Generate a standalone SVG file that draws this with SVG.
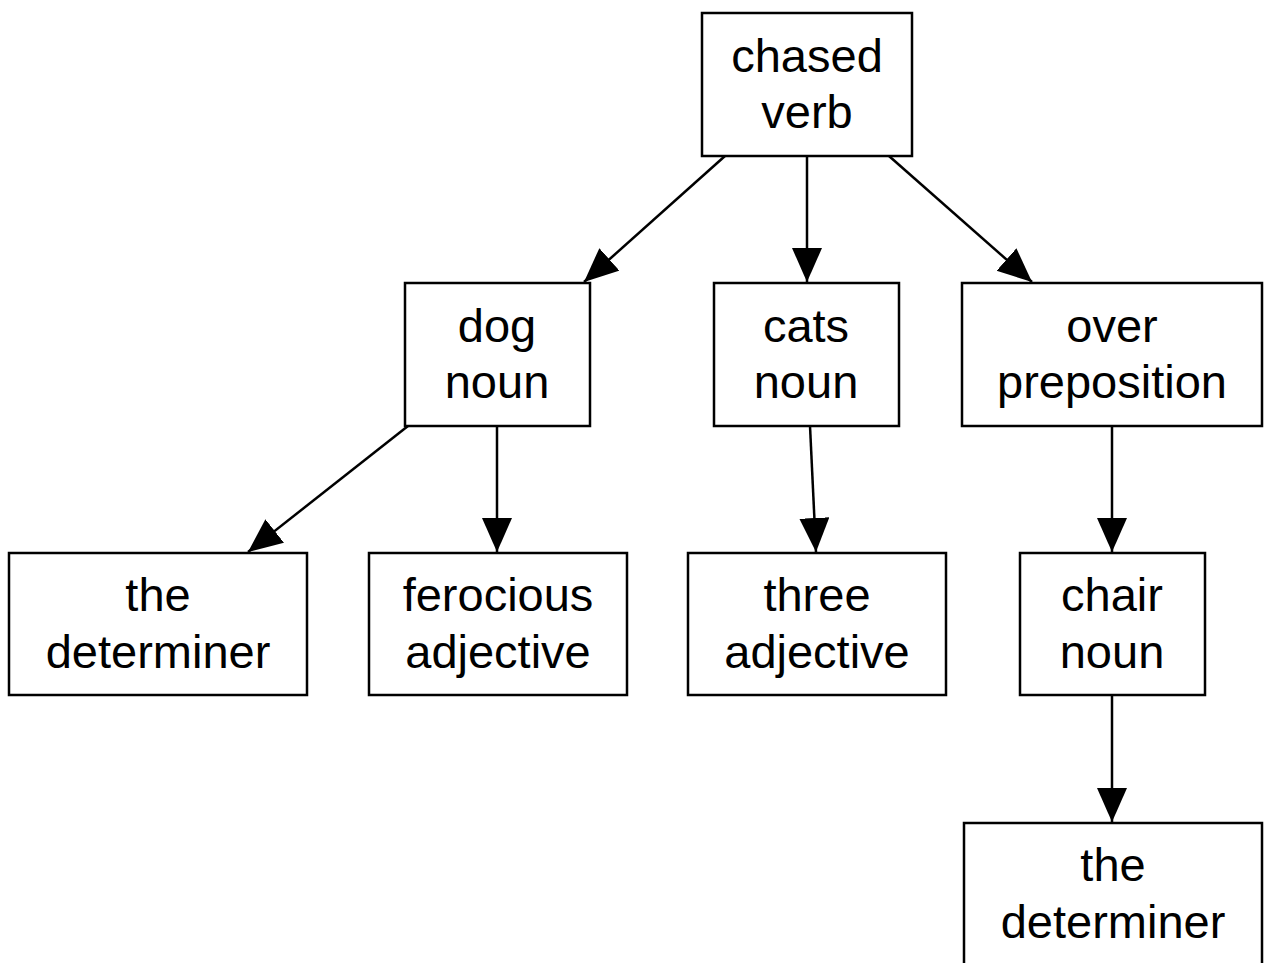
<svg xmlns="http://www.w3.org/2000/svg" width="1264" height="963" viewBox="0 0 1264 963">
<style>
rect.n{fill:#fff;stroke:#000;stroke-width:2.5}
text{font-family:"Liberation Sans",Arial,sans-serif;font-size:47px;fill:#000;text-anchor:middle}
.e line{stroke:#000;stroke-width:2.5}
</style>
<defs>
<marker id="ah" markerUnits="userSpaceOnUse" markerWidth="36" markerHeight="32" refX="34" refY="15" orient="auto">
<path d="M0,0 L34,15 L0,30 z" fill="#000"/>
</marker>
</defs>
<rect width="1264" height="963" fill="#fff"/>
<g class="e" id="connectors">
<line x1="725" y1="156" x2="584" y2="282" marker-end="url(#ah)"/>
<line x1="807" y1="156" x2="807" y2="282" marker-end="url(#ah)"/>
<line x1="889" y1="156" x2="1032" y2="282" marker-end="url(#ah)"/>
<line x1="408" y1="426" x2="248" y2="552" marker-end="url(#ah)"/>
<line x1="497" y1="426" x2="497" y2="552" marker-end="url(#ah)"/>
<line x1="810" y1="426" x2="816" y2="552" marker-end="url(#ah)"/>
<line x1="1112" y1="426" x2="1112" y2="552" marker-end="url(#ah)"/>
<line x1="1112" y1="695" x2="1112" y2="822" marker-end="url(#ah)"/>
</g>
<g id="chased"><rect class="n" x="702" y="13" width="210" height="143"/><text x="807" y="72">chased</text><text x="807" y="128">verb</text></g>
<g id="dog"><rect class="n" x="405" y="283" width="185" height="143"/><text x="497" y="342">dog</text><text x="497" y="398">noun</text></g>
<g id="cats"><rect class="n" x="714" y="283" width="185" height="143"/><text x="806" y="342">cats</text><text x="806" y="398">noun</text></g>
<g id="over"><rect class="n" x="962" y="283" width="300" height="143"/><text x="1112" y="342">over</text><text x="1112" y="398">preposition</text></g>
<g id="the1"><rect class="n" x="9" y="553" width="298" height="142"/><text x="158" y="611">the</text><text x="158" y="668">determiner</text></g>
<g id="ferocious"><rect class="n" x="369" y="553" width="258" height="142"/><text x="498" y="611">ferocious</text><text x="498" y="668">adjective</text></g>
<g id="three"><rect class="n" x="688" y="553" width="258" height="142"/><text x="817" y="611">three</text><text x="817" y="668">adjective</text></g>
<g id="chair"><rect class="n" x="1020" y="553" width="185" height="142"/><text x="1112" y="611">chair</text><text x="1112" y="668">noun</text></g>
<g id="the2"><rect class="n" x="964" y="823" width="298" height="150"/><text x="1113" y="881">the</text><text x="1113" y="938">determiner</text></g>
</svg>
